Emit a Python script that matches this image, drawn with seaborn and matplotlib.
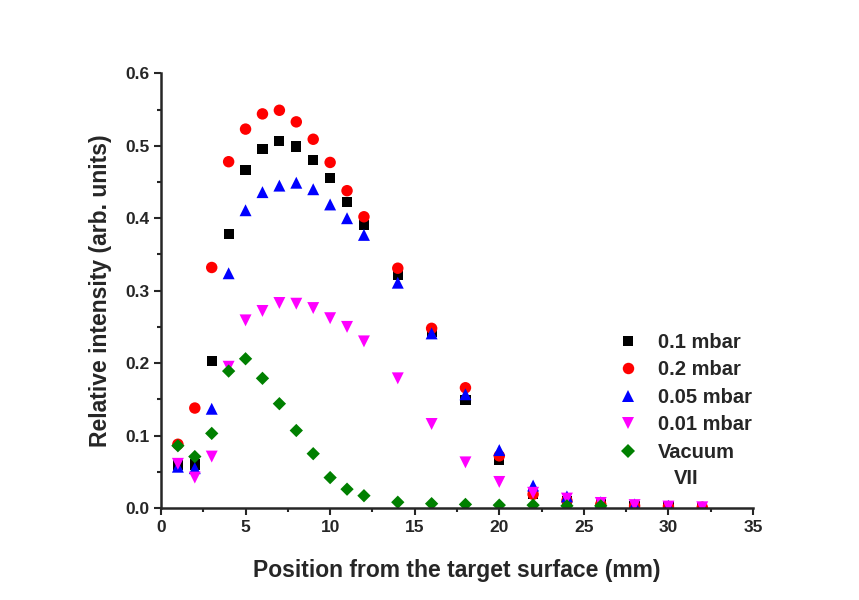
import pandas as pd
import seaborn as sns
import matplotlib.pyplot as plt

# positions (mm)
position = [1, 2, 3, 4, 5, 6, 7, 8, 9, 10, 11, 12, 14, 16, 18, 20, 22, 24, 26, 28, 30, 32]

p_01 = [0.059, 0.060, 0.203, 0.378, 0.467, 0.495, 0.507, 0.499, 0.480, 0.456, 0.422, 0.391,
        0.322, 0.243, 0.149, 0.067, 0.019, 0.010, 0.005, 0.003, 0.002, 0.001]
p_02 = [0.088, 0.138, 0.332, 0.478, 0.523, 0.544, 0.549, 0.533, 0.509, 0.477, 0.438, 0.402,
        0.331, 0.248, 0.166, 0.072, 0.019, 0.010, 0.005, 0.003, 0.002, 0.001]
p_005 = [0.057, 0.055, 0.137, 0.324, 0.411, 0.436, 0.445, 0.449, 0.440, 0.419, 0.400, 0.377,
         0.311, 0.241, 0.157, 0.080, 0.031, 0.016, 0.008, 0.005, 0.003, 0.001]
p_001 = [0.061, 0.042, 0.071, 0.195, 0.259, 0.272, 0.283, 0.282, 0.276, 0.262, 0.250, 0.230,
         0.179, 0.116, 0.063, 0.036, 0.021, 0.013, 0.007, 0.004, 0.002, 0.001]
vac_pos = [1, 2, 3, 4, 5, 6, 7, 8, 9, 10, 11, 12, 14, 16, 18, 20, 22, 24, 26]
vacuum = [0.086, 0.071, 0.103, 0.189, 0.206, 0.179, 0.144, 0.107, 0.075, 0.042, 0.026, 0.017,
          0.008, 0.006, 0.005, 0.004, 0.004, 0.003, 0.003]

labels = ['0.1 mbar', '0.2 mbar', '0.05 mbar', '0.01 mbar', 'Vacuum']

frames = []
for lab, xs, ys in zip(labels, [position] * 4 + [vac_pos], [p_01, p_02, p_005, p_001, vacuum]):
    frames.append(pd.DataFrame({'pos': xs, 'val': ys, 'series': lab}))
df = pd.concat(frames, ignore_index=True)

sns.set_style('ticks')
plt.rcParams['font.family'] = ['Liberation Sans', 'DejaVu Sans']
plt.rcParams['font.weight'] = 'bold'

fig = plt.figure(figsize=(8.59, 6.0), dpi=100)
ax = fig.add_axes([0.1874, 0.1533, 0.6892, 0.7245])

palette = {'0.1 mbar': 'black', '0.2 mbar': '#ff0000', '0.05 mbar': '#0000ff',
           '0.01 mbar': '#ff00ff', 'Vacuum': '#008000'}
markers = {'0.1 mbar': 's', '0.2 mbar': 'o', '0.05 mbar': '^',
           '0.01 mbar': 'v', 'Vacuum': 'D'}
# marker areas tuned so each shape looks about the same as the original
sizes = {'0.1 mbar': 54, '0.2 mbar': 68, '0.05 mbar': 74,
         '0.01 mbar': 74, 'Vacuum': 46}

sns.scatterplot(data=df, x='pos', y='val', hue='series', style='series', size='series',
                palette=palette, markers=markers, sizes=sizes,
                hue_order=labels, style_order=labels, size_order=labels,
                linewidth=0, ax=ax)

ax.set_xlim(0, 35)
ax.set_ylim(0, 0.6)
ax.set_xticks([0, 5, 10, 15, 20, 25, 30, 35])
ax.set_yticks([0.0, 0.1, 0.2, 0.3, 0.4, 0.5, 0.6])
ax.set_yticklabels(['0.0', '0.1', '0.2', '0.3', '0.4', '0.5', '0.6'])
ax.set_xticks([2.5 + 5 * i for i in range(7)], minor=True)
ax.set_yticks([0.05 + 0.1 * i for i in range(6)], minor=True)
ax.tick_params(which='major', direction='out', length=5, width=1.5, labelsize=12.5)
ax.tick_params(which='minor', direction='out', length=3, width=1.5)
for lbl in ax.get_xticklabels() + ax.get_yticklabels():
    lbl.set_fontweight('bold')
sns.despine(ax=ax)
for sp in ['left', 'bottom']:
    ax.spines[sp].set_linewidth(1.8)

ax.set_xlabel('Position from the target surface (mm)', fontsize=16.5, fontweight='bold', labelpad=17.5)
ax.set_ylabel('Relative intensity (arb. units)', fontsize=16.5, fontweight='bold', labelpad=9)

handles, labs = ax.get_legend_handles_labels()
ax.legend(handles, labs, loc='center left', bbox_to_anchor=(0.772, 0.255), frameon=False,
          borderpad=0, borderaxespad=0, handlelength=1.0, handletextpad=1.0,
          labelspacing=0.42, prop={'size': 14.5, 'weight': 'bold'}, markerscale=1.0)
ax.text(0.887, 0.069, 'VII', transform=ax.transAxes, ha='center', va='center',
        fontsize=14.5, fontweight='bold')

fig.savefig('out.png', dpi=100, facecolor='white')
